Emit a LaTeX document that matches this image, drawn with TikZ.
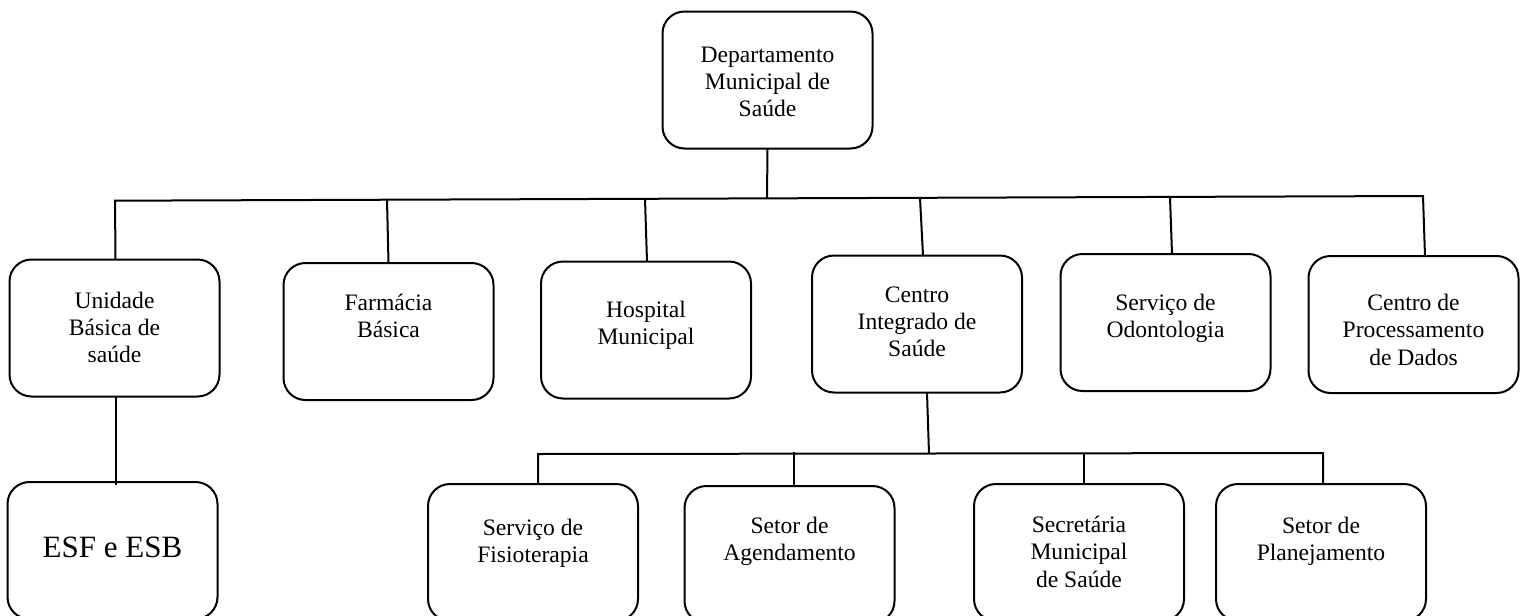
\documentclass[tikz,border=0pt]{standalone}
\usepackage{fontspec}
\setmainfont{Liberation Serif}
\tikzset{
  orgbox/.style={draw, line width=1pt, rounded corners=11pt, inner sep=0pt, outer sep=0pt,
    font=\fontsize{11.8}{13.7}\selectfont,
    execute at begin node={\begin{minipage}[c][68.5pt][t]{105pt}\centering\rule{0pt}{#1}},
    execute at end node={\end{minipage}}},
  orgbox/.default=25pt,
  conn/.style={line width=1pt, line join=miter}
}
\begin{document}
\begin{tikzpicture}[x=0.5pt,y=-0.5pt]
\useasboundingbox (0,0) rectangle (1527,616);
\clip (0,0) rectangle (1527,616);
% level 0
\node[orgbox=25.25pt] (dep) at (767.5,80) {Departamento\\Municipal de\\Saúde};
% level 1
\node[orgbox=24.25pt] (ubs) at (114.5,328) {Unidade\\Básica de\\saúde};
\node[orgbox=23.75pt] (farm) at (388.5,331.5) {Farmácia\\Básica};
\node[orgbox=27.75pt] (hosp) at (646,330) {Hospital\\Municipal};
\node[orgbox=23.25pt] (cis) at (917,324) {Centro\\Integrado de\\Saúde};
\node[orgbox=28.25pt] (odon) at (1165.5,322.5) {Serviço de\\Odontologia};
\node[orgbox=27.25pt] (cpd) at (1413.5,324.5) {Centro de\\Processamento\\de Dados};
% level 2
\node[orgbox=37.5pt] (esf) at (112.5,550.5) {\fontsize{15.5}{18}\selectfont ESF e ESB};
\node[orgbox=25.75pt] (fisio) at (533,552.5) {Serviço de\\Fisioterapia};
\node[orgbox=23.75pt] (agend) at (789.5,554.5) {Setor de\\Agendamento};
\node[orgbox=24.25pt] (secr) at (1079,552.5) {Secretária\\Municipal\\de Saúde};
\node[orgbox=24.75pt] (plan) at (1321,552.5) {Setor de\\Planejamento};
% bar coordinates
\coordinate (barL) at (115,200.7);
\coordinate (barR) at (1423,196);
\coordinate (barM) at (767,198.4);
\coordinate (bFarm) at (387,199.7);
\coordinate (bHosp) at (645,198.8);
\coordinate (bCis) at (920,197.8);
\coordinate (bOdon) at (1170,196.9);
\coordinate (sbL) at (538,454);
\coordinate (sbR) at (1323,453);
\coordinate (sbM) at (929,453.8);
\coordinate (sAg) at (794,452);
\coordinate (sSe) at (1084,454);
% connectors
\draw[conn] (dep.south) -- (barM);
\draw[conn] ([xshift=0.5pt]ubs.north) -- (barL) -- (barR) -- ([xshift=5.75pt]cpd.north);
\draw[conn] (bFarm) -- (farm.north);
\draw[conn] (bHosp) -- ([xshift=0.5pt]hosp.north);
\draw[conn] (bCis) -- ([xshift=3pt]cis.north);
\draw[conn] (bOdon) -- ([xshift=3.25pt]odon.north);
\draw[conn] ([xshift=0.75pt]ubs.south) -- ([xshift=1.75pt,yshift=-1.5pt]esf.north);
\draw[conn] ([xshift=5pt]cis.south) -- (sbM);
\draw[conn] ([xshift=2.5pt]fisio.north) -- (sbL) -- (sbR) -- ([xshift=1pt]plan.north);
\draw[conn] (sAg) -- ([xshift=2.25pt]agend.north);
\draw[conn] (sSe) -- ([xshift=2.5pt]secr.north);
\end{tikzpicture}
\end{document}
